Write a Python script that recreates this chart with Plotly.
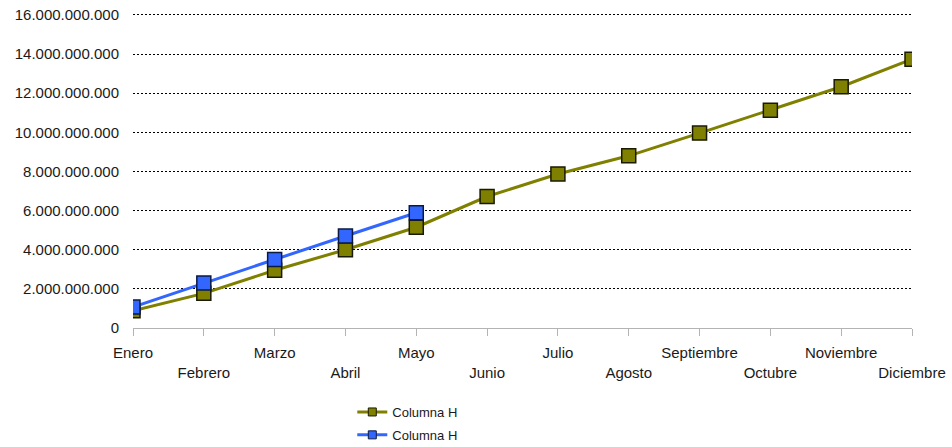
import plotly.graph_objects as go

months = ["Enero", "Febrero", "Marzo", "Abril", "Mayo", "Junio", "Julio",
          "Agosto", "Septiembre", "Octubre", "Noviembre", "Diciembre"]
olive_values = [0.88e9, 1.77e9, 2.95e9, 4.0e9, 5.15e9, 6.72e9, 7.87e9,
                8.8e9, 9.96e9, 11.13e9, 12.33e9, 13.74e9]
blue_values = [1.07e9, 2.3e9, 3.5e9, 4.7e9, 5.89e9]
y_ticks = [0, 2e9, 4e9, 6e9, 8e9, 10e9, 12e9, 14e9, 16e9]
series_name = "Columna H"
olive = "#808000"
blue = "#3366FF"

x_idx = list(range(len(months)))
tick_text = [m if i % 2 == 0 else "<br>" + m for i, m in enumerate(months)]

fig = go.Figure()
fig.add_trace(go.Scatter(
    x=x_idx, y=olive_values, name=series_name, mode="lines+markers",
    line=dict(color=olive, width=3), showlegend=False, legendgroup="a",
    marker=dict(symbol="square", size=14, color=olive,
                line=dict(color="#1a1a00", width=1.5)),
))
fig.add_trace(go.Scatter(
    x=x_idx[:len(blue_values)], y=blue_values, name=series_name, mode="lines+markers",
    line=dict(color=blue, width=3), showlegend=False, legendgroup="b",
    marker=dict(symbol="square", size=14, color=blue,
                line=dict(color="#0a1a40", width=1.5)),
))
# legend entries with smaller symbols
for col, grp, edge in [(olive, "a", "#1a1a00"), (blue, "b", "#0a1a40")]:
    fig.add_trace(go.Scatter(
        x=[None], y=[None], name=series_name, mode="lines+markers", legendgroup=grp,
        line=dict(color=col, width=3),
        marker=dict(symbol="square", size=8, color=col, line=dict(color=edge, width=1)),
    ))

fig.update_layout(
    width=952, height=447,
    margin=dict(l=133, r=40, t=12, b=119, autoexpand=False),
    paper_bgcolor="white", plot_bgcolor="white",
    separators=",.",
    font=dict(family="Liberation Sans, Arial, sans-serif", size=15, color="#1a1a1a"),
    showlegend=True,
    legend=dict(x=0.2815, y=-0.2184, xanchor="left", yanchor="top",
                font=dict(size=13, color="#1a1a1a"), bgcolor="rgba(0,0,0,0)",
                itemwidth=30, tracegroupgap=3),
    xaxis=dict(
        range=[0, len(months) - 1], tickvals=x_idx, ticktext=tick_text, tickangle=0,
        showgrid=False, zeroline=False, showline=True, linecolor="#b3b3b3", linewidth=1,
        ticks="outside", ticklen=7, tickcolor="#b3b3b3", tickwidth=1, ticklabelstandoff=4,
        tickfont=dict(size=15, color="#1a1a1a"), automargin=False,
        ticklabeloverflow="allow",
    ),
    yaxis=dict(
        range=[0, 16.15e9], tickvals=y_ticks, tickformat=",d",
        showgrid=True, gridcolor="#000000", gridwidth=1, griddash="2px,2px",
        zeroline=False, showline=False, ticks="", ticklabelstandoff=13,
        tickfont=dict(size=15, color="#1a1a1a"), automargin=False,
        ticklabeloverflow="allow",
    ),
)

fig.write_html("out.html", config={"displayModeBar": False},
               post_script="document.body.style.margin='0';document.body.style.overflow='hidden';")
